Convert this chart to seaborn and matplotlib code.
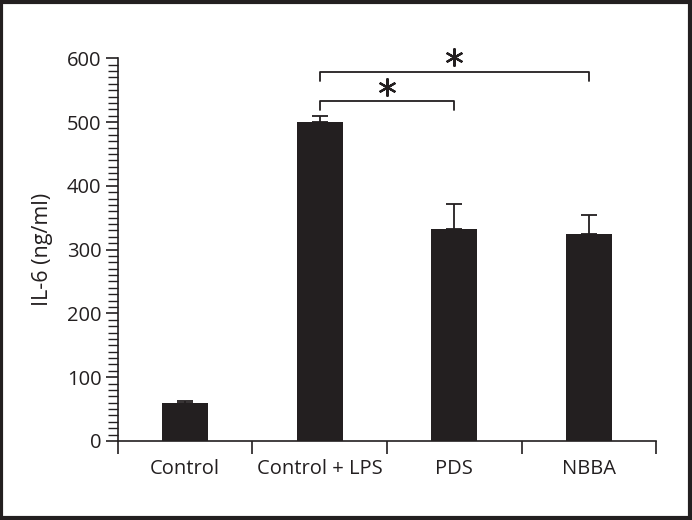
import matplotlib
matplotlib.use("Agg")
import matplotlib.pyplot as plt
import matplotlib.patches as patches
from matplotlib.ticker import MultipleLocator, FixedLocator
import seaborn as sns
import pandas as pd

# Data
groups = ["Control", "Control + LPS", "PDS", "NBBA"]
il6_mean = [60, 500, 333, 325]
il6_err = [3, 10, 38, 30]

# significance brackets: group pairs, bracket heights, star heights
bracket_pairs = [(1, 2), (1, 3)]
bracket_heights = [533, 579]
star_heights = [555, 602]

sns.set_theme(style="white")
plt.rcParams['font.family'] = ['Open Sans', 'DejaVu Sans']

BAR_COLOR = "#231f20"

df = pd.DataFrame({"group": groups, "il6": il6_mean})

fig = plt.figure(figsize=(6.92, 5.20), dpi=100)
ax = fig.add_axes([0.1705, 0.152, 0.948 - 0.1705, 0.888 - 0.152])

sns.barplot(data=df, x="group", y="il6", color=BAR_COLOR, width=0.34,
            saturation=1, ax=ax, errorbar=None)
for p in ax.patches:
    p.set_edgecolor("none")

# upward-only error bars
ax.errorbar(range(len(groups)), il6_mean, yerr=[[0] * len(groups), il6_err],
            fmt="none", ecolor=BAR_COLOR, elinewidth=1.3, capsize=5.5, capthick=1.3)

# significance brackets with asterisks
for (a, b), h, s in zip(bracket_pairs, bracket_heights, star_heights):
    ax.plot([a, a, b, b], [h - 14, h, h, h - 14], color=BAR_COLOR, lw=1.3,
            clip_on=False)
    ax.plot([(a + b) / 2], [s], marker=(6, 2, 0), markersize=13, mew=1.6,
            color=BAR_COLOR, clip_on=False)

ax.set_xlim(-0.5, 3.5)
ax.set_ylim(0, 600)
ax.yaxis.set_major_locator(MultipleLocator(100))
ax.yaxis.set_minor_locator(MultipleLocator(10))
ax.xaxis.set_minor_locator(FixedLocator([-0.5, 0.5, 1.5, 2.5, 3.5]))

ax.tick_params(axis="y", which="major", direction="out", length=9, width=1.2,
               color=BAR_COLOR, labelsize=14.5, labelcolor=BAR_COLOR, left=True, pad=3)
ax.tick_params(axis="y", which="minor", direction="out", length=7, width=1.0,
               color=BAR_COLOR, left=True)
ax.tick_params(axis="x", which="major", length=0, labelsize=14.5,
               labelcolor=BAR_COLOR, pad=13)
ax.tick_params(axis="x", which="minor", direction="out", length=9, width=1.2,
               color=BAR_COLOR, bottom=True)

ax.set_xlabel("")
ax.set_ylabel("IL-6 (ng/ml)", fontsize=15.5, color=BAR_COLOR, labelpad=10)

sns.despine(ax=ax)
for side in ["left", "bottom"]:
    ax.spines[side].set_color(BAR_COLOR)
    ax.spines[side].set_linewidth(1.2)

# outer frame around the whole figure
fig.patches.append(patches.Rectangle((0.002, 0.003), 0.995, 0.994,
                                     transform=fig.transFigure, fill=False,
                                     edgecolor=BAR_COLOR, linewidth=3))

fig.savefig("out.png", dpi=100)
